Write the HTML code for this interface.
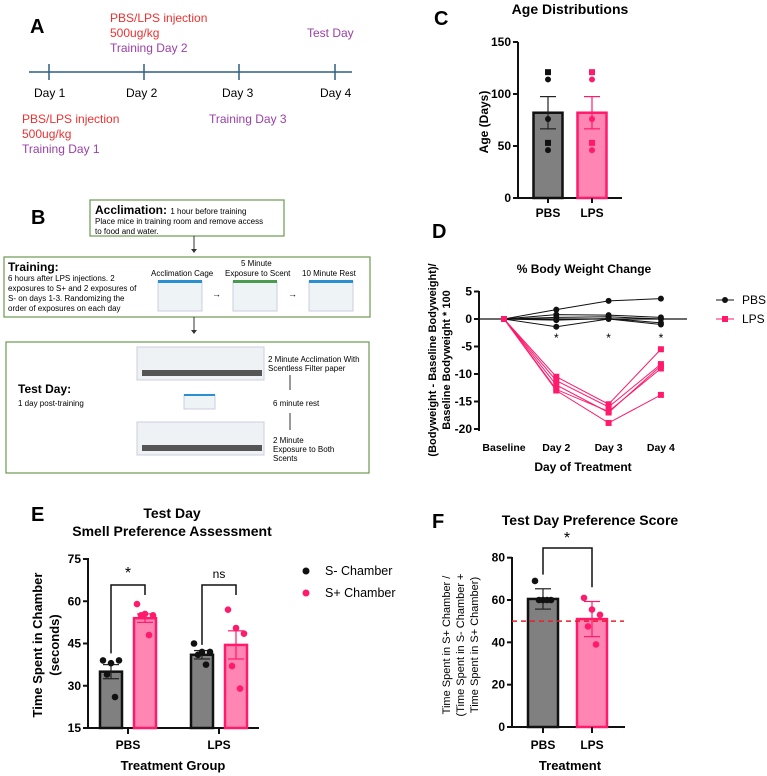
<!DOCTYPE html>
<html><head><meta charset="utf-8"><style>
body{margin:0;background:#fff;}
svg{display:block;font-family:"Liberation Sans",sans-serif;}
</style></head><body>
<svg id="fig" width="767" height="776" viewBox="0 0 767 776">
<!-- Panel A -->
<g font-size="12">
<text x="30" y="33" font-size="20" font-weight="bold">A</text>
<line x1="29" y1="72" x2="352" y2="72" stroke="#2f5f82" stroke-width="1.5"/>
<line x1="49" y1="64" x2="49" y2="80" stroke="#2f5f82" stroke-width="1.5"/>
<line x1="144" y1="64" x2="144" y2="80" stroke="#2f5f82" stroke-width="1.5"/>
<line x1="239" y1="64" x2="239" y2="80" stroke="#2f5f82" stroke-width="1.5"/>
<line x1="335" y1="64" x2="335" y2="80" stroke="#2f5f82" stroke-width="1.5"/>
<text x="34" y="97">Day 1</text>
<text x="126" y="97">Day 2</text>
<text x="222" y="97">Day 3</text>
<text x="320" y="97">Day 4</text>
<text x="110" y="22" fill="#f03030">PBS/LPS injection</text>
<text x="110" y="37" fill="#f03030">500ug/kg</text>
<text x="110" y="52" fill="#9b3fa8">Training Day 2</text>
<text x="307" y="37" fill="#9b3fa8">Test Day</text>
<text x="22" y="123" fill="#f03030">PBS/LPS injection</text>
<text x="22" y="138" fill="#f03030">500ug/kg</text>
<text x="22" y="153" fill="#9b3fa8">Training Day 1</text>
<text x="209" y="123" fill="#9b3fa8">Training Day 3</text>
</g>
<!-- Panel B -->
<g font-size="8">
<text x="31" y="224" font-size="20" font-weight="bold">B</text>
<rect x="90" y="200" width="194" height="36" fill="#fff" stroke="#6a9a50" stroke-width="1.2"/>
<text x="95" y="214" font-size="12" font-weight="bold">Acclimation: <tspan font-size="8" font-weight="normal">1 hour before training</tspan></text>
<text x="95" y="224">Place mice in training room and remove access</text>
<text x="95" y="234">to food and water.</text>
<line x1="194" y1="236" x2="194" y2="250" stroke="#333"/><path d="M191,249 L194,253 L197,249Z" fill="#333"/>
<rect x="4" y="257" width="366" height="60" fill="#fff" stroke="#6a9a50" stroke-width="1.2"/>
<text x="8" y="271" font-size="12" font-weight="bold">Training:</text>
<text x="8" y="281">6 hours after LPS injections. 2</text>
<text x="8" y="291">exposures to S+ and 2 exposures of</text>
<text x="8" y="301">S- on days 1-3. Randomizing the</text>
<text x="8" y="311">order of exposures on each day</text>
<text x="151" y="276">Acclimation Cage</text>
<text x="241" y="266">5 Minute</text>
<text x="225" y="276">Exposure to Scent</text>
<text x="302" y="276">10 Minute Rest</text>
<rect x="158" y="281" width="44" height="30" fill="#eef3f6" stroke="#ccd"/><rect x="158" y="280" width="44" height="3" fill="#2a8fd0"/>
<rect x="233" y="281" width="44" height="30" fill="#eef3f6" stroke="#ccd"/><rect x="233" y="280" width="44" height="3" fill="#4a9a50"/>
<rect x="309" y="281" width="44" height="30" fill="#eef3f6" stroke="#ccd"/><rect x="309" y="280" width="44" height="3" fill="#2a8fd0"/>
<text x="212" y="297" font-size="9">→</text><text x="288" y="297" font-size="9">→</text>
<line x1="194" y1="317" x2="194" y2="331" stroke="#333"/><path d="M191,330 L194,334 L197,330Z" fill="#333"/>
<rect x="6" y="342" width="363" height="131" fill="#fff" stroke="#6a9a50" stroke-width="1.2"/>
<text x="18" y="393" font-size="12" font-weight="bold">Test Day:</text>
<text x="18" y="406">1 day post-training</text>
<rect x="137" y="347" width="127" height="33" fill="#eef2f5" stroke="#ccd"/>
<rect x="142" y="370" width="120" height="6" fill="#555"/>
<rect x="184" y="395" width="31" height="14" fill="#eef3f6" stroke="#ccd"/><rect x="184" y="394" width="31" height="2" fill="#2a8fd0"/>
<rect x="137" y="422" width="127" height="33" fill="#eef2f5" stroke="#ccd"/>
<rect x="142" y="445" width="120" height="6" fill="#555"/>
<text x="268" y="362">2 Minute Acclimation With</text>
<text x="268" y="371">Scentless Filter paper</text>
<line x1="290" y1="375" x2="290" y2="390" stroke="#333"/>
<text x="273" y="406">6  minute rest</text>
<line x1="290" y1="413" x2="290" y2="430" stroke="#333"/>
<text x="273" y="443">2 Minute</text>
<text x="273" y="452">Exposure to Both</text>
<text x="273" y="461">Scents</text>
</g>
<g id="gC"></g>
<g id="gD"></g>
<g id="gE"></g>
<g id="gF"></g>
</svg>
<script>
// Panel C data
const cGroups = ["PBS","LPS"];
const cMeans = [82, 82];
const cSem = [15.5, 15.5];
const cSquares = [[121, 53],[121, 53]];
const cCircles = [[114, 76, 46],[114, 76, 46]];
const cTicks = [0,50,100,150];
// Panel D data
const dCats = ["Baseline","Day 2","Day 3","Day 4"];
const dPBS = [[0,1.7,3.3,3.7],[0,0.8,0.7,0.3],[0,0.3,0.4,0],[0,-0.2,0.1,-0.7],[0,-1.4,0,-1]];
const dLPS = [[0,-10.5,-15.5,-5.5],[0,-11.2,-16,-8.2],[0,-12,-17,-8.5],[0,-12.8,-16.8,-9],[0,-13,-18.9,-13.8]];
const dTicks = [5,0,-5,-10,-15,-20];
// Panel E data
const eGroups = ["PBS","LPS"];
const eMeansMinus = [35, 41];
const eMeansPlus = [54, 44.5];
const eSemMinus = [2.5, 1.5];
const eSemPlus = [1.5, 5];
const ePtsMinus = [[39,38,39,34,26],[45,42,42,41,37.5]];
const ePtsPlus = [[59,55.5,55,55,48],[57,50.5,48.5,37,29]];
const eTicks = [15,30,45,60,75];
// Panel F data
const fGroups = ["PBS","LPS"];
const fMeans = [60.5, 51];
const fSem = [4.8, 8.3];
const fPts = [[69,60,60,60,60],[61,55.5,53,47.5,39]];
const fTicks = [0,20,40,60,80];
const fRef = 50;

const NS="http://www.w3.org/2000/svg";
const PINK="#ff1a6c", PINKF="#ff85b3", GREY="#808080";
const JIT=[-8,0,8,-4,4];
function mk(parent,tag,attrs,text){const e=document.createElementNS(NS,tag);for(const k in attrs)e.setAttribute(k,attrs[k]);if(text!==undefined)e.textContent=text;parent.appendChild(e);return e;}
function T(p,x,y,s,o){return mk(p,"text",Object.assign({x:x,y:y,"text-anchor":"middle","font-size":12,"font-weight":"bold"},o||{}),s);}
function yAxis(g,x,scale,ticks,y0,y1){
  mk(g,"line",{x1:x,y1:y0,x2:x,y2:y1,stroke:"#111","stroke-width":2});
  ticks.forEach(t=>{const y=scale(t);mk(g,"line",{x1:x-5,y1:y,x2:x,y2:y,stroke:"#111","stroke-width":2});
    const tl=T(g,x-7,y+4,String(t),{"text-anchor":"end"});
    
    });
}
function bar(g,cx,w,mean,sem,scale,base,fill,stroke,name){
  const r=mk(g,"rect",{x:cx-w/2,y:scale(mean),width:w,height:scale(base)-scale(mean),fill:fill,stroke:stroke,"stroke-width":2.5});
  
  
  const ec=stroke==="#111"?"#222":stroke;
  mk(g,"line",{x1:cx,y1:scale(mean+sem),x2:cx,y2:scale(mean-sem),stroke:ec,"stroke-width":1.2});
  mk(g,"line",{x1:cx-8,y1:scale(mean+sem),x2:cx+8,y2:scale(mean+sem),stroke:ec,"stroke-width":1.2});
  mk(g,"line",{x1:cx-8,y1:scale(mean-sem),x2:cx+8,y2:scale(mean-sem),stroke:ec,"stroke-width":1.2});
}
function dots(g,cx,vals,scale,color,name){
  vals.forEach((v,i)=>{const off=JIT[i%JIT.length];
    const c=mk(g,"circle",{cx:cx+off,cy:scale(v),r:3.3,fill:color});
    
    });
}
// ---- C ----
(function(){
  const g=document.getElementById("gC");
  const sc=v=>198-v*(156/150);
  T(g,434,25,"C",{"font-size":20,"text-anchor":"start"});
  T(g,570,14,"Age Distributions",{"font-size":14});
  yAxis(g,518,sc,cTicks,42,199);
  mk(g,"line",{x1:517,y1:198,x2:622,y2:198,stroke:"#111","stroke-width":2});
  const xs=[548,592];
  cGroups.forEach((gr,i)=>{
    const col=i===0?"#111":PINK;
    bar(g,xs[i],29,cMeans[i],cSem[i],sc,0,i===0?GREY:PINKF,col,"bar-"+gr.toLowerCase());
    cSquares[i].forEach(v=>{const r=mk(g,"rect",{x:xs[i]-3,y:sc(v)-3,width:6,height:6,fill:col});
      
      });
    cCircles[i].forEach(v=>{const c=mk(g,"circle",{cx:xs[i],cy:sc(v),r:3,fill:col});
      
      });
    mk(g,"line",{x1:xs[i],y1:198,x2:xs[i],y2:203,stroke:"#111","stroke-width":2});
    T(g,xs[i],217,gr);
  });
  T(g,0,0,"Age (Days)",{transform:"translate(488,122) rotate(-90)"});
})();
// ---- D ----
(function(){
  const g=document.getElementById("gD");
  const sc=v=>319-v*5.5;
  const xs=i=>504+i*52.3;
  T(g,432,238,"D",{"font-size":20,"text-anchor":"start"});
  T(g,584,273,"% Body Weight Change",{"font-size":12});
  yAxis(g,479,sc,dTicks,291,431);
  mk(g,"line",{x1:479,y1:319,x2:687,y2:319,stroke:"#111","stroke-width":1.3});
  dCats.forEach((c,i)=>{T(g,xs(i),451,c,{"font-size":10.5});});
  T(g,583,471,"Day of Treatment",{"font-size":12});
  T(g,0,0,"(Bodyweight - Baseline Bodyweight)/",{"font-size":11,transform:"translate(436,360) rotate(-90)"});
  T(g,0,0,"Baseline Bodyweight * 100",{"font-size":11,transform:"translate(450,360) rotate(-90)"});
  [1,2,3].forEach(i=>T(g,xs(i),342,"*",{"font-size":12,"font-weight":"normal"}));
  dPBS.forEach(s=>{
    const p=mk(g,"polyline",{points:s.map((v,i)=>xs(i)+","+sc(v)).join(" "),fill:"none",stroke:"#111","stroke-width":1});
    
    
    s.forEach((v,i)=>{const c=mk(g,"circle",{cx:xs(i),cy:sc(v),r:3,fill:"#111"});
      
      });
  });
  dLPS.forEach(s=>{
    const p=mk(g,"polyline",{points:s.map((v,i)=>xs(i)+","+sc(v)).join(" "),fill:"none",stroke:PINK,"stroke-width":1});
    
    
    s.forEach((v,i)=>{const r=mk(g,"rect",{x:xs(i)-3,y:sc(v)-3,width:6,height:6,fill:PINK});
      
      });
  });
  mk(g,"line",{x1:716,y1:300,x2:734,y2:300,stroke:"#111"});mk(g,"circle",{cx:725,cy:300,r:3,fill:"#111"});
  T(g,742,304,"PBS",{"text-anchor":"start","font-weight":"normal"});
  mk(g,"line",{x1:716,y1:319,x2:734,y2:319,stroke:PINK});mk(g,"rect",{x:722,y:316,width:6,height:6,fill:PINK});
  T(g,742,323,"LPS",{"text-anchor":"start","font-weight":"normal"});
})();
// ---- E ----
(function(){
  const g=document.getElementById("gE");
  const sc=v=>728-(v-15)*(169/60);
  T(g,31,521,"E",{"font-size":20,"text-anchor":"start"});
  T(g,172,518,"Test Day",{"font-size":14});
  T(g,172,536,"Smell Preference Assessment",{"font-size":14});
  yAxis(g,88,sc,eTicks,558,729);
  mk(g,"line",{x1:87,y1:728,x2:259,y2:728,stroke:"#111","stroke-width":2});
  const centers=[128,219];
  eGroups.forEach((gr,i)=>{
    const xm=centers[i]-17, xp=centers[i]+17;
    bar(g,xm,22,eMeansMinus[i],eSemMinus[i],sc,15,GREY,"#111","bar-"+gr.toLowerCase()+"-s-minus");
    bar(g,xp,22,eMeansPlus[i],eSemPlus[i],sc,15,PINKF,PINK,"bar-"+gr.toLowerCase()+"-s-plus");
    dots(g,xm,ePtsMinus[i],sc,"#111","s-minus-point");
    dots(g,xp,ePtsPlus[i],sc,PINK,"s-plus-point");
    mk(g,"line",{x1:centers[i],y1:728,x2:centers[i],y2:734,stroke:"#111","stroke-width":2});
    T(g,centers[i],749,gr);
    const top=585;
    mk(g,"polyline",{points:`${xm},${sc(eMeansMinus[i]+eSemMinus[i]+(i?2:4))} ${xm},${top} ${xp},${top} ${xp},${top+10}`,fill:"none",stroke:"#111","stroke-width":1.5});
    T(g,(xm+xp)/2,578,i===0?"*":"ns",{"font-size":i===0?16:12,"font-weight":"normal"});
  });
  T(g,173,770,"Treatment Group",{"font-size":13});
  T(g,0,0,"Time Spent in Chamber",{"font-size":13,transform:"translate(42,645) rotate(-90)"});
  T(g,0,0,"(seconds)",{"font-size":13,transform:"translate(59,645) rotate(-90)"});
  mk(g,"circle",{cx:306,cy:571,r:3.5,fill:"#111"});
  T(g,325,575,"S- Chamber",{"text-anchor":"start","font-weight":"normal","font-size":12.5});
  mk(g,"circle",{cx:306,cy:593,r:3.5,fill:PINK});
  T(g,325,597,"S+ Chamber",{"text-anchor":"start","font-weight":"normal","font-size":12.5});
})();
// ---- F ----
(function(){
  const g=document.getElementById("gF");
  const sc=v=>727-v*(127/60);
  T(g,432,528,"F",{"font-size":20,"text-anchor":"start"});
  T(g,590,525,"Test Day Preference Score",{"font-size":14});
  yAxis(g,512,sc,fTicks,557,728);
  mk(g,"line",{x1:511,y1:727,x2:625,y2:727,stroke:"#111","stroke-width":2});
  const xs=[543,592];
  fGroups.forEach((gr,i)=>{
    const col=i===0?"#111":PINK;
    bar(g,xs[i],30,fMeans[i],fSem[i],sc,0,i===0?GREY:PINKF,col,"bar-"+gr.toLowerCase());
    dots(g,xs[i],fPts[i],sc,col,"score-point");
    mk(g,"line",{x1:xs[i],y1:727,x2:xs[i],y2:733,stroke:"#111","stroke-width":2});
    T(g,xs[i],749,gr);
  });
  const dl=mk(g,"line",{x1:512,y1:sc(fRef),x2:624,y2:sc(fRef),stroke:"#e8202a","stroke-width":1.5,"stroke-dasharray":"5,4"});
  
  
  mk(g,"polyline",{points:`${xs[0]},${sc(72)} ${xs[0]},548 ${xs[1]},548 ${xs[1]},${sc(66)}`,fill:"none",stroke:"#111","stroke-width":1.5});
  T(g,567,543,"*",{"font-size":16,"font-weight":"normal"});
  T(g,570,770,"Treatment",{"font-size":13});
  T(g,0,0,"Time Spent in S+ Chamber /",{"font-size":11,"font-weight":"normal",transform:"translate(450,645) rotate(-90)"});
  T(g,0,0,"(Time Spent in S- Chamber +",{"font-size":11,"font-weight":"normal",transform:"translate(464,645) rotate(-90)"});
  T(g,0,0,"Time Spent in S+ Chamber)",{"font-size":11,"font-weight":"normal",transform:"translate(478,645) rotate(-90)"});
})();
</script>
</body></html>
